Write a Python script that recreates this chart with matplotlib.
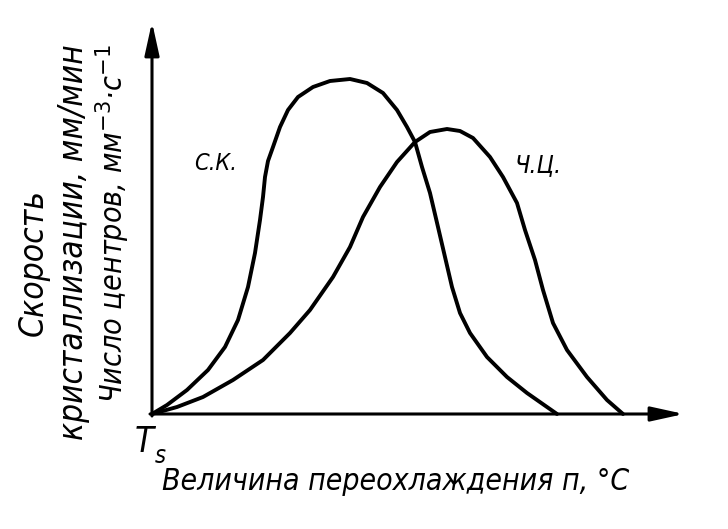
import matplotlib
matplotlib.use("Agg")
import matplotlib.pyplot as plt
from matplotlib import font_manager as fm

# Crystallization speed (С.К.) curve: x = undercooling (arbitrary units), y = value
sk_x = [0, 15, 35, 56, 73, 86, 96, 103, 108, 111, 113, 116, 121, 128, 136, 146, 161, 178, 198,
        215, 231, 245, 255, 263, 270, 278, 286, 293, 300, 308, 318, 335, 355, 375, 405]
sk_y = [0, 9, 24, 44, 67, 94, 127, 161, 194, 217, 237, 253, 267, 287, 304, 317, 327, 333, 335,
        331, 321, 304, 287, 272, 247, 221, 187, 157, 127, 101, 81, 57, 37, 21, 0]

# Number of centres (Ч.Ц.) curve
nc_x = [0, 25, 51, 81, 111, 138, 158, 181, 198, 211, 228, 245, 263, 278, 295, 308, 321,
        338, 351, 358, 365, 373, 383, 391, 401, 415, 435, 455, 471]
nc_y = [0, 7, 17, 34, 54, 81, 104, 137, 167, 197, 227, 252, 272, 282, 285, 283, 276,
        257, 237, 224, 211, 184, 154, 124, 91, 64, 37, 14, 0]

label_sk = "С.К."
label_nc = "Ч.Ц."
xlabel = "Величина переохлаждения п, °C"
ylabel1 = "Скорость"
ylabel2 = "кристаллизации, мм/мин"
ylabel3 = "Число центров, мм$^{-3}$·с$^{-1}$"
origin_label = "T"
origin_sub = "s"

# pick a condensed italic font if one is installed
prefs = ["DejaVuSansCondensed-Oblique", "LiberationSansNarrow-Italic",
         "NotoSans-CondensedItalic", "RobotoCondensed-Italic", "OpenSans_Condensed-Italic",
         "OpenSansCondensed-Italic"]
fp = None
for p in prefs:
    for f in fm.fontManager.ttflist:
        if p.lower() in f.fname.lower().replace(" ", ""):
            fp = fm.FontProperties(fname=f.fname)
            break
    if fp is not None:
        break
if fp is None:
    fp = fm.FontProperties(family="DejaVu Sans", style="italic")

OX, OY = 152, 414  # origin pixel


def px(x):
    return x - OX


def py(y):
    return OY - y


fig = plt.figure(figsize=(7.28, 5.29), dpi=100)
ax = fig.add_axes([0, 0, 1, 1])
ax.set_xlim(-OX, 728 - OX)
ax.set_ylim(-(529 - OY), OY)
ax.axis("off")

lw = 2.8
ax.plot(sk_x, sk_y, color="black", lw=lw, solid_joinstyle="round", solid_capstyle="round")
ax.plot(nc_x, nc_y, color="black", lw=lw, solid_joinstyle="round", solid_capstyle="round")

arrow = dict(arrowstyle="-|>,head_length=1.0,head_width=0.22", lw=2.2, color="black",
             mutation_scale=20, shrinkA=0, shrinkB=0)
ax.annotate("", xy=(0, py(22)), xytext=(0, -2), arrowprops=arrow)
ax.annotate("", xy=(px(684), 0), xytext=(-2, 0), arrowprops=arrow)

texts = []


def add(x, y, s, length, rot=0, ha="center"):
    t = ax.text(px(x), py(y), s, fontproperties=fp, fontsize=20, rotation=rot,
                rotation_mode="anchor", ha=ha, va="baseline", color="black")
    texts.append((t, length, rot))
    return t


add(216, 170, label_sk, 43)
add(538, 172, label_nc, 47)
add(144, 452, origin_label, 19)
add(160, 463, origin_sub, 11)
add(396, 490, xlabel, 467)
add(43, 263, ylabel1, 147, rot=90)
add(83, 242, ylabel2, 395, rot=90)
add(123, 224, ylabel3, 358, rot=90)

fig.canvas.draw()
r = fig.canvas.get_renderer()
for t, length, rot in texts:
    bb = t.get_window_extent(r)
    cur = bb.height if rot == 90 else bb.width
    t.set_fontsize(t.get_fontsize() * length / cur)

fig.savefig("out.png", dpi=100, facecolor="white")
